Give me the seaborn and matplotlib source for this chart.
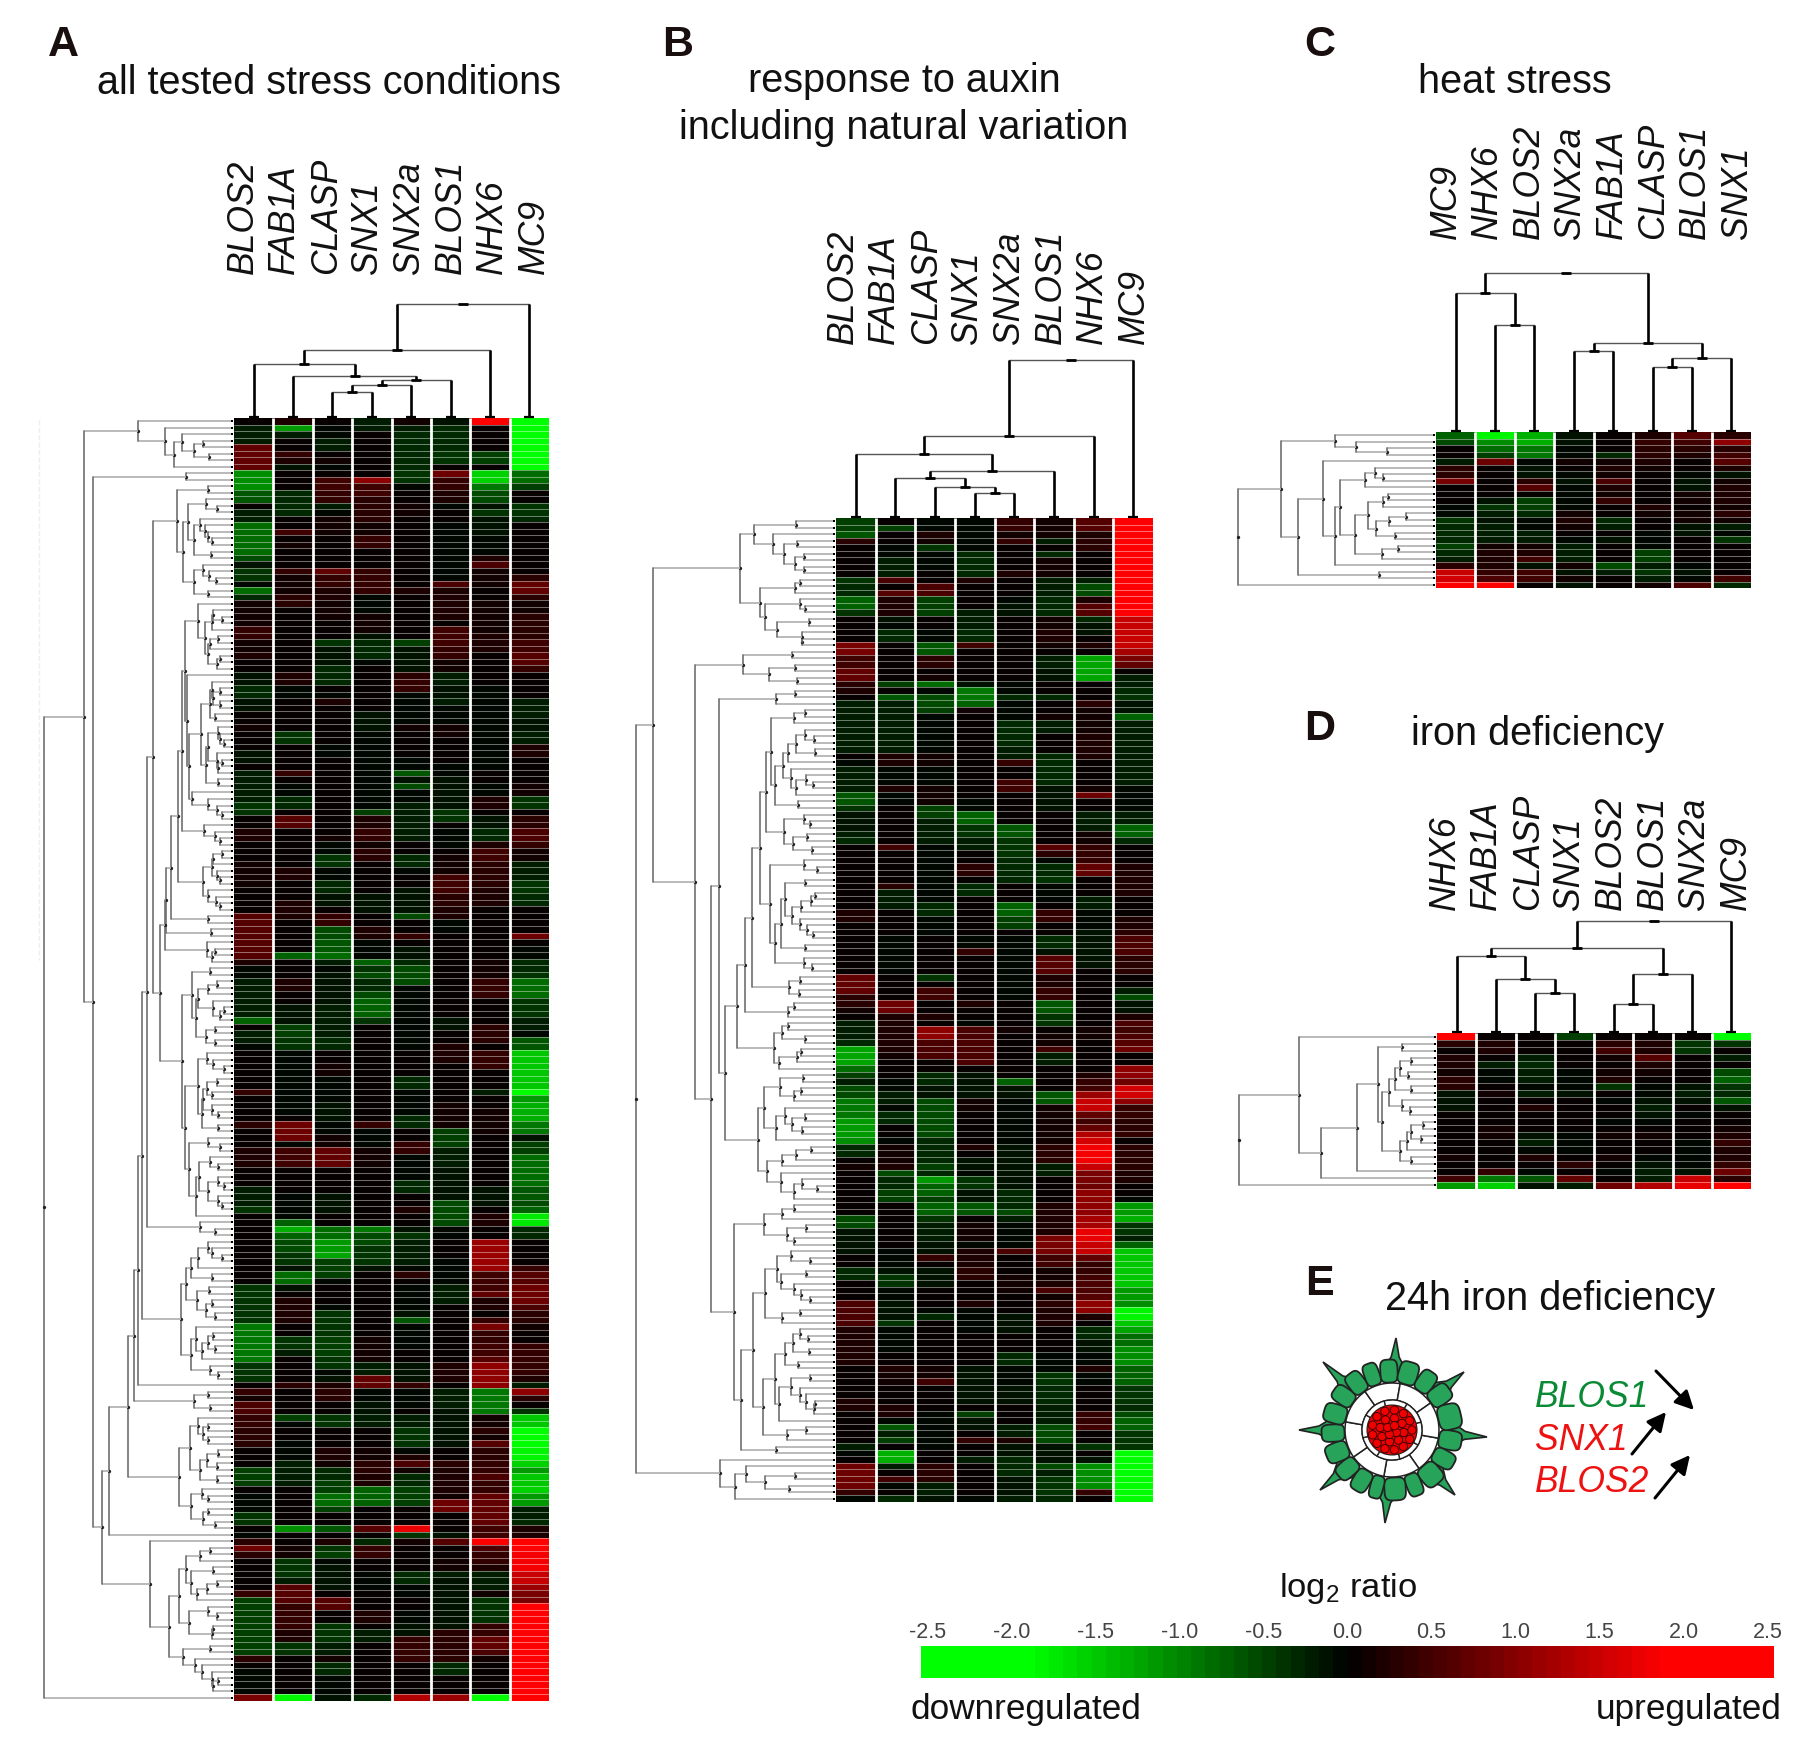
import numpy as np
import seaborn as sns
import matplotlib.pyplot as plt
from matplotlib.colors import LinearSegmentedColormap
from matplotlib.patches import Wedge, Polygon, Circle, FancyArrowPatch

W, H = 1800, 1739

# gene order of each panel
GENES_AB = ["BLOS2", "FAB1A", "CLASP", "SNX1", "SNX2a", "BLOS1", "NHX6", "MC9"]
GENES_C = ["MC9", "NHX6", "BLOS2", "SNX2a", "FAB1A", "CLASP", "BLOS1", "SNX1"]
GENES_D = ["NHX6", "FAB1A", "CLASP", "SNX1", "BLOS2", "BLOS1", "SNX2a", "MC9"]
BAR_TICKS = [-2.5, -2.0, -1.5, -1.0, -0.5, 0.0, 0.5, 1.0, 1.5, 2.0, 2.5]

# -------------------------
# panel A, 197 rows: (first row, log2 ratio) runs
# -------------------------
A_ROWS = 197
A_BLOS2 = [(0,.1),(1,-.3),(4,.9),(8,-1.2),(11,-.8),(13,0),(14,-.3),(16,-1.0),(21,-.7),(22,-.2),(23,-.5),(25,-.1),(26,-1.0),(27,-.4),(28,.2),(32,.5),(34,.2),(36,.3),(37,.1),(39,-.2),(41,-.4),(43,-.2),(45,0),(47,.2),(48,0),(51,-.2),(53,0),(54,-.3),(59,-.5),(61,0),(63,.3),(65,0),(68,.2),(72,.1),(76,.8),(83,.3),(84,-.1),(86,-.35),(92,-.9),(93,0),(94,-.35),(96,-.1),(97,.05),(103,.5),(104,.15),(108,.4),(109,0),(112,.35),(115,0),(118,-.3),(121,-.5),(122,0),(126,.1),(131,0),(133,-.5),(139,-1.1),(145,-.5),(148,0),(149,.5),(150,.2),(151,.7),(153,.5),(155,.4),(158,.1),(161,-.6),(164,0),(165,-.1),(168,-.5),(170,0),(171,-.1),(172,.4),(173,1.0),(174,.4),(175,0),(180,.5),(181,-.6),(190,.4),(191,0),(192,-.1),(196,1.1)]
A_FAB1A = [(0,.3),(1,-1.3),(2,-.3),(3,0),(4,.05),(5,.5),(6,.3),(7,-.2),(8,0),(9,.1),(11,-.4),(15,0),(17,.6),(18,0),(19,.2),(20,0),(23,.5),(24,.2),(27,.4),(29,.1),(33,0),(39,.3),(41,-.1),(43,0),(48,-.5),(50,0),(51,.1),(54,.5),(55,.1),(56,-.1),(58,-.4),(60,0),(61,.8),(63,0),(67,.1),(69,.3),(71,0),(74,.3),(77,.1),(82,-.9),(83,0),(86,.3),(88,.1),(90,-.2),(93,-.6),(95,-.5),(97,-.1),(107,.1),(108,1.0),(111,-.1),(112,.6),(115,0),(117,.1),(119,-.05),(123,-.9),(124,-1.5),(125,-.9),(126,-.7),(128,-.5),(130,-.2),(131,-1.0),(133,-.2),(134,0),(135,.3),(139,0),(141,-.5),(143,-.3),(144,0),(148,.4),(149,0),(153,-.6),(154,-.1),(155,.1),(157,-.1),(160,-.3),(164,0),(170,-1.2),(171,0),(173,.2),(175,-.5),(178,-.3),(179,.8),(182,.5),(186,.3),(188,-.5),(190,0),(196,-1.9)]
A_CLASP = [(0,0),(1,-.1),(3,-.3),(5,.1),(6,.2),(7,-.1),(8,0),(9,.6),(11,.5),(13,-.3),(14,-.1),(15,.2),(18,.1),(21,0),(23,.9),(24,.5),(26,.3),(28,.2),(31,0),(33,.05),(34,-.5),(35,-.2),(38,-.4),(41,0),(42,-.05),(43,.3),(44,0),(50,-.1),(52,.1),(54,0),(61,.1),(64,.2),(65,-.1),(67,-.5),(69,-.1),(71,-.4),(73,-.2),(75,0),(76,.5),(78,-.7),(80,-.8),(82,-1.0),(83,-.3),(84,-.1),(85,-.2),(90,-.3),(95,-.4),(97,0),(99,.2),(101,-.05),(105,-.2),(108,-.05),(110,.2),(112,.9),(115,0),(119,-.2),(122,0),(124,-1.0),(126,-1.3),(128,-1.4),(129,-.6),(132,-.1),(133,0),(136,-.1),(137,-.5),(141,-.6),(144,-.5),(146,-.1),(147,-.2),(148,.3),(149,.4),(151,.1),(153,-.5),(155,0),(158,.3),(160,.2),(161,-.4),(163,-.6),(165,-1.0),(167,-.6),(168,0),(170,-.8),(171,0),(172,.3),(173,-.5),(174,-.6),(175,-.1),(176,-.2),(180,0),(181,.8),(183,.1),(185,-.5),(188,-.3),(190,.2),(191,-.4),(193,-.1),(196,-.2)]
A_SNX1 = [(0,-.3),(2,.1),(5,.05),(7,.1),(9,1.2),(10,.6),(12,.4),(16,.2),(18,.5),(20,.05),(21,0),(23,.5),(27,-.1),(30,.2),(33,-.2),(34,-.4),(37,-.1),(38,0),(45,-.2),(48,-.1),(60,-.6),(61,.3),(63,.5),(65,.2),(66,.4),(68,.1),(71,0),(73,-.2),(76,0),(78,.3),(80,-.1),(83,-.9),(84,-.5),(85,-.7),(86,-.4),(88,-.7),(89,-.9),(92,-.5),(93,0),(98,.1),(108,.5),(109,-.1),(112,.2),(115,0),(121,.05),(124,-1.1),(125,-.7),(127,-.5),(130,-.2),(131,0),(134,.1),(141,.2),(145,-.3),(147,.9),(149,-.1),(151,-.2),(153,-.3),(155,.05),(158,.2),(160,.4),(162,.3),(164,-.9),(167,.05),(170,.8),(171,.1),(172,-.4),(173,.5),(175,.1),(177,-.1),(180,.1),(183,.3),(185,0),(186,-.3),(188,0),(196,-.4)]
A_SNX2A = [(0,.2),(1,-.3),(2,-.4),(8,-.5),(10,-.1),(11,.05),(13,.2),(15,.1),(26,.3),(27,0),(34,-.6),(35,-.2),(39,.4),(40,.5),(42,-.1),(47,.2),(48,.1),(50,.05),(52,-.1),(54,-.8),(55,-.2),(56,-.7),(57,-.1),(59,-.3),(65,0),(67,-.4),(69,-.1),(70,0),(72,-.2),(76,-.7),(77,.1),(78,.05),(79,.5),(80,0),(81,-.2),(83,-.4),(84,-.7),(87,-.1),(91,-.05),(97,.1),(99,.05),(101,-.4),(103,-.1),(107,-.4),(109,0),(110,.1),(111,.5),(113,-.05),(117,-.4),(119,.05),(121,.3),(122,0),(124,-.2),(125,-.5),(126,-.3),(130,-.1),(131,.4),(132,.1),(133,-.1),(137,-.2),(138,-.8),(139,-.1),(143,.05),(145,-.2),(148,.5),(149,-.1),(152,0),(153,-.3),(155,-.5),(158,-.1),(159,.3),(160,.7),(161,.2),(162,-.4),(164,-.6),(167,.1),(170,1.8),(171,-.5),(172,.2),(173,0),(177,-.4),(179,-.1),(181,.05),(183,-.05),(185,-.2),(187,.5),(191,.1),(196,1.5)]
A_BLOS1 = [(0,-.2),(1,-.4),(5,-.5),(7,0),(8,1.0),(9,.5),(11,.3),(13,-.1),(14,.1),(16,-.05),(25,.7),(26,.3),(31,.1),(32,.6),(35,.5),(37,.2),(39,-.3),(41,-.2),(43,-.3),(44,-.1),(47,.2),(49,.05),(53,-.1),(55,-.2),(60,-.5),(62,.05),(63,-.1),(66,.05),(67,.2),(70,.6),(73,.4),(75,.3),(77,-.1),(79,.05),(88,.1),(92,-.2),(94,.05),(96,.3),(99,.1),(101,.05),(105,.2),(109,-.6),(112,-.3),(115,-.2),(120,-.7),(124,-.1),(126,0),(129,-.1),(133,-.3),(136,0),(141,.1),(145,.3),(148,0),(149,-.3),(152,-.2),(158,.05),(160,.4),(161,.3),(165,.2),(166,1.0),(168,.05),(169,0),(171,-.2),(172,.8),(173,0),(174,.1),(175,.2),(177,-.3),(178,-.2),(185,-.2),(186,.4),(191,-.4),(193,.05),(196,1.3)]
A_NHX6 = [(0,2.4),(1,0),(5,-.6),(7,0),(8,-1.7),(10,-1.1),(11,-.7),(13,-.2),(14,-.5),(15,-.2),(18,-.1),(21,.3),(22,.7),(23,.2),(26,0),(28,.2),(33,.3),(36,.1),(41,-.1),(54,0),(56,-.05),(58,.3),(60,0),(61,-.2),(63,-.4),(65,.3),(66,.6),(68,.4),(72,.3),(75,.1),(76,0),(83,.2),(86,.5),(89,.1),(92,.05),(93,.4),(96,.1),(97,.5),(100,.1),(103,-.3),(104,.1),(106,.2),(110,0),(118,-.2),(121,0),(122,.3),(124,0),(126,1.3),(131,.6),(134,.9),(135,.3),(137,.1),(138,.5),(139,1.1),(140,.5),(142,.6),(144,.8),(145,1.2),(149,-1.1),(153,.2),(155,.4),(156,.2),(157,.8),(158,.4),(160,.5),(162,.7),(163,.5),(165,.9),(170,.6),(172,2.2),(173,.7),(174,.5),(176,.3),(177,-.3),(180,.2),(181,-.5),(185,.5),(187,.9),(189,.7),(190,.2),(191,0),(196,-2.0)]
A_MC9 = [(0,-2.2),(1,-2.5),(7,-2.1),(8,-1.0),(10,-.6),(11,0),(13,-.5),(15,-.4),(16,0),(18,.1),(20,0),(24,.4),(25,.9),(27,.4),(28,.2),(30,.4),(34,.6),(36,.8),(38,.5),(39,0),(41,.05),(43,-.3),(46,-.2),(48,-.3),(50,.3),(52,.1),(56,.2),(58,-.5),(60,0),(61,.4),(63,.7),(65,.5),(66,.2),(68,-.3),(71,-.5),(73,-.4),(75,0),(76,.1),(79,1.0),(80,.05),(81,-.1),(83,-.4),(85,-.5),(86,-1.0),(89,-.5),(92,-.3),(94,-.1),(95,-.8),(97,-1.6),(103,-2.0),(104,-1.3),(105,-1.5),(108,-1.1),(110,-.2),(111,-.6),(113,-1.0),(118,-.8),(120,-.7),(121,-.9),(122,-1.8),(124,-.4),(126,0),(129,.1),(130,.5),(131,.8),(133,1.0),(136,.7),(137,.4),(139,.2),(140,.1),(142,.5),(147,.3),(148,-.3),(149,1.2),(150,.4),(151,.1),(152,-.5),(153,-1.6),(155,-2.4),(156,-2.2),(158,-1.9),(160,-1.7),(161,-1.3),(162,-1.6),(164,-1.7),(165,-1.3),(167,-.3),(169,-.4),(170,.3),(172,2.3),(174,1.9),(177,1.6),(179,1.3),(180,1.1),(182,2.2),(190,2.5)]

# -------------------------
# panel B, 151 rows
# -------------------------
B_ROWS = 151
B_BLOS2 = [(0,-.6),(2,-.8),(3,.4),(4,0),(9,-.5),(10,-.4),(12,-.9),(14,-.5),(15,0),(19,1.1),(21,.6),(23,.9),(25,.4),(26,.3),(27,0),(28,-.3),(36,.15),(37,-.05),(38,-.3),(42,-.8),(44,-.5),(45,-.2),(48,-.3),(49,-.4),(50,0),(56,.1),(58,0),(60,.3),(62,.1),(64,0),(70,.9),(72,.9),(73,.4),(75,.2),(76,.05),(77,-.3),(80,-.4),(81,-1.4),(84,-1.0),(85,-.6),(86,-.3),(87,-.7),(89,-1.1),(92,-1.3),(95,-1.2),(96,-.4),(98,.05),(99,.2),(100,0),(107,-.7),(109,-.2),(113,0),(115,-.4),(117,0),(120,.7),(124,.3),(130,.1),(133,0),(135,.3),(137,.05),(140,0),(142,-.3),(143,-.1),(144,0),(145,1.0),(149,.5),(150,-.1)]
B_FAB1A = [(0,.05),(1,-.6),(2,0),(4,-.05),(6,-.3),(9,.7),(10,.1),(11,.8),(12,.3),(15,-.2),(16,-.05),(17,-.4),(19,0),(25,-.6),(26,0),(27,-.8),(28,-.3),(36,.3),(38,-.1),(41,.3),(42,-.1),(44,0),(47,.05),(50,.6),(51,0),(55,.1),(56,.4),(57,-.3),(60,0),(64,-.1),(70,0),(73,.1),(74,1.0),(76,.3),(82,.2),(83,.1),(86,-.1),(88,-.3),(90,-.1),(91,-.4),(93,0),(95,-.1),(96,.2),(99,.3),(100,-.7),(101,-.4),(103,-.6),(105,0),(112,-.1),(115,-.2),(116,-.5),(118,-.1),(120,-.2),(123,-.5),(124,-.1),(128,0),(130,.3),(131,.2),(133,0),(136,.3),(138,-.1),(139,-.8),(140,-.3),(141,-.6),(142,.05),(143,-1.5),(145,-.3),(146,.1),(147,.6),(148,-.1),(149,.1),(150,-.4)]
B_CLASP = [(0,-.1),(2,.3),(3,.2),(4,-.5),(5,-.1),(8,.05),(9,.1),(10,.7),(12,-.6),(15,.05),(17,-.1),(19,-.8),(21,.4),(23,.05),(24,.2),(25,-1.0),(26,-.1),(27,-.7),(29,-.6),(30,-.1),(36,.2),(38,-.05),(41,.2),(44,-.6),(46,-.3),(50,-.1),(59,-.4),(61,-.1),(64,.1),(70,-.5),(71,0),(72,.6),(74,0),(76,.3),(77,0),(78,1.2),(80,.7),(83,.1),(85,-.4),(87,-.2),(89,-.7),(94,-.7),(95,-.4),(99,-.6),(100,-.4),(101,-1.3),(102,-.9),(104,-.6),(105,-.9),(107,-.5),(108,-.3),(111,-.2),(113,.5),(114,0),(115,-.2),(118,.1),(121,-.1),(122,-.4),(123,.05),(124,.1),(126,0),(130,.2),(132,.6),(133,0),(137,-.1),(143,0),(145,.4),(148,-.3),(150,-.2)]
B_SNX1 = [(0,-.1),(5,-.4),(9,.3),(10,.1),(13,.05),(14,-.3),(17,-.4),(19,.6),(20,.1),(21,0),(25,-.2),(26,-1.1),(28,-.9),(29,.2),(30,.05),(41,.1),(43,-.1),(45,-.9),(47,-.5),(49,-.3),(51,0),(53,.4),(55,.05),(56,-.4),(58,0),(64,-.1),(66,.5),(67,0),(70,.05),(74,.3),(75,.05),(77,-.1),(78,.7),(84,.05),(85,-.2),(89,.2),(91,0),(96,.3),(97,.1),(98,-.2),(100,-.1),(101,-.5),(103,-.2),(105,-.8),(107,0),(108,.2),(111,-.1),(112,.3),(115,.4),(117,.1),(120,.3),(121,-.1),(125,0),(130,-.2),(136,.1),(137,-.6),(138,-.2),(140,.05),(141,.5),(142,0),(144,-.3),(145,.1),(147,0),(150,-.1)]
B_SNX2A = [(0,.5),(2,.2),(3,.5),(4,.05),(8,.3),(9,0),(12,-.1),(13,-.2),(15,0),(19,.1),(25,-.1),(27,-.4),(28,-.05),(31,-.4),(35,-.3),(37,.5),(38,.1),(40,.6),(42,0),(47,-.8),(49,-.5),(52,-.4),(56,0),(59,-.9),(61,-.6),(63,.05),(64,-.1),(74,0),(78,.2),(79,0),(86,-.9),(87,-.2),(89,-.1),(96,-.2),(103,-.4),(106,-.7),(107,-.3),(108,-.1),(112,.7),(113,0),(116,.2),(119,0),(122,-.2),(125,0),(128,-.4),(130,-.1),(133,-.2),(136,0),(139,-.3),(141,.3),(142,-.2),(144,-.4),(147,-.2),(150,-.3)]
B_BLOS1 = [(0,.2),(3,-.3),(4,.05),(5,-.4),(6,.2),(9,-.3),(12,-.4),(15,.2),(17,.3),(19,.2),(20,.1),(21,-.3),(23,-.2),(25,0),(26,.05),(27,-.4),(28,.1),(30,.2),(31,-.3),(33,.1),(36,-.4),(41,-.2),(45,0),(49,.1),(50,.8),(51,.4),(52,-.1),(53,-.4),(55,-.5),(56,-.05),(59,.1),(60,.5),(62,.1),(64,-.4),(66,-.2),(67,.8),(70,.3),(72,.5),(74,-.8),(76,-.5),(78,.1),(79,.2),(81,.6),(82,-.3),(84,.05),(86,.1),(88,-.8),(90,.2),(96,.4),(99,-.3),(101,.1),(105,.3),(110,1.1),(113,.6),(115,.2),(117,.3),(118,.7),(119,.2),(120,.4),(121,.3),(124,.1),(126,.05),(128,-.1),(130,-.05),(131,-.5),(133,-.4),(136,-.3),(139,-.7),(142,-.2),(145,-.7),(146,-.3),(147,-.5),(150,-.4)]
B_NHX6 = [(0,.8),(2,.3),(3,.4),(5,0),(9,-.3),(10,-.7),(12,.3),(13,.8),(15,-.4),(16,-.2),(18,.1),(19,.3),(20,0),(21,-1.4),(25,.05),(27,.1),(28,.4),(29,.2),(33,.3),(37,.1),(41,.2),(42,1.0),(43,.1),(44,.05),(45,-.3),(48,.2),(50,.5),(53,.9),(55,.1),(57,.05),(58,-.3),(60,-.1),(63,-.2),(69,.1),(74,.05),(78,.2),(80,.05),(84,.1),(85,.3),(86,.5),(87,.6),(88,1.3),(89,1.6),(91,.9),(92,.6),(93,.9),(94,1.5),(95,1.7),(96,1.9),(99,1.6),(100,1.1),(102,1.0),(103,1.2),(107,1.4),(109,1.8),(111,1.6),(113,.9),(114,.5),(116,.6),(117,.7),(119,.8),(120,1.2),(122,.3),(123,.05),(124,-.4),(126,-.2),(128,-.1),(130,.3),(131,-.1),(133,0),(137,.5),(139,.6),(140,0),(142,-.5),(143,0),(144,-.2),(145,-1.2),(149,.5),(150,.05)]
B_MC9 = [(0,2.5),(13,2.2),(15,1.6),(20,1.4),(21,1.1),(22,.9),(23,.1),(24,-.3),(26,-.4),(27,-.5),(28,-.2),(30,-.9),(31,-.3),(41,-.1),(45,-.3),(47,-.9),(49,-.4),(50,.1),(53,.3),(58,.05),(61,.3),(63,.4),(64,.7),(67,.4),(70,.1),(72,-.3),(73,-.7),(74,-.2),(76,.3),(77,.7),(78,.6),(79,.7),(80,.8),(81,1.0),(82,.1),(84,1.2),(86,1.0),(87,1.7),(89,1.2),(90,.5),(92,.4),(94,.5),(95,.05),(96,.4),(100,.3),(102,.1),(104,-.1),(105,-1.3),(107,-1.5),(108,-.5),(110,-.3),(111,-.9),(112,-1.6),(118,-1.3),(120,-1.2),(121,-1.9),(123,-1.6),(124,-1.4),(125,-1.0),(127,-1.2),(130,-.9),(133,-.5),(136,-.4),(137,-.7),(138,-.9),(140,-.5),(143,-2.0),(145,-2.5),(148,-2.3)]

# -------------------------
# panel C, one value per row
# -------------------------
C_MC9 = [-.9,-.7,0,.15,-.3,.4,.4,1.1,.1,0,0,-.1,-.1,-.5,-.4,-.4,-.4,-.6,-.4,-.3,.4,1.6,1.7,2.3]
C_NHX6 = [-1.9,-1.2,-1.0,-.6,1.0,.1,.1,0,0,0,-.2,-.5,-.3,-.2,-.3,-.3,-.3,.2,.3,.3,.3,.5,.7,2.2]
C_BLOS2 = [-1.5,-1.5,-1.1,-1.1,-.05,-.2,-.2,.4,.8,.1,-.6,-.6,-.4,-.1,-.1,-.3,-.3,.2,.3,.6,-.2,.6,.6,0]
C_SNX2A = [-.2,-.2,-.1,-.1,.2,.1,-.1,-.2,-.1,-.1,-.1,-.1,.2,.3,.2,0,-.1,-.3,-.3,-.3,.2,-.2,.2,-.2]
C_FAB1A = [.1,.1,0,-.4,.2,.3,.2,.7,.3,.2,.5,.1,.1,-.4,-.3,.1,-.2,0,.1,.1,-.7,-.3,.1,.1]
C_CLASP = [.3,.5,.4,.4,.3,.2,.1,.1,.1,.1,.1,.3,.2,.1,0,-.1,-.1,-.1,-.6,-.6,-.3,-.5,-.3,.2]
C_BLOS1 = [.8,.6,.4,.3,.1,0,-.1,-.2,-.2,.2,.2,0,.2,.2,-.2,-.2,.1,.1,0,0,-.1,-.2,-.1,.7]
C_SNX1 = [.4,1.2,.4,.6,.8,.3,-.2,.2,.3,.3,.3,.2,.4,.2,-.3,-.1,-.5,.1,.1,.1,0,0,.6,-.4]

# -------------------------
# panel D
# -------------------------
D_NHX6 = [2.3,.4,0,.3,.3,.2,.4,.4,-.2,-.2,-.2,0,0,.05,.05,0,.05,.2,0,0,.6,-1.3]
D_FAB1A = [.1,.3,.3,0,-.3,-.1,-.1,.1,.2,0,0,0,.1,.2,.2,.1,.1,.1,.1,.5,-1.1,-1.7]
D_CLASP = [0,.05,.05,-.3,-.4,-.3,-.3,-.1,-.3,0,.3,0,0,0,-.2,-.3,-.1,.3,.1,-.1,-.8,-.2]
D_SNX1 = [-.6,0,0,0,0,-.1,-.1,-.1,-.2,0,0,0,0,0,-.1,-.1,-.1,.1,.4,.1,.9,-.3]
D_BLOS2 = [0,.4,.6,.2,.1,.2,.3,-.5,.1,-.1,0,0,-.05,.1,.2,0,.1,.2,.1,-.1,0,1.0]
D_BLOS1 = [0,.3,.3,.8,.3,.2,.1,-.1,-.1,-.2,-.3,-.2,-.1,.1,.2,.1,0,-.1,-.2,-.3,-.3,1.5]
D_SNX2A = [.1,-.5,-.5,0,.05,.05,0,-.2,-.3,-.2,0,-.1,0,0,0,-.1,-.1,-.1,-.1,-.2,1.6,1.8]
D_MC9 = [-2.3,-.5,0,-.3,0,-.7,-.9,-.5,-.4,-.8,-.2,0,.05,.2,.3,.5,.3,.3,.5,1.0,.4,2.4]

# merge height between neighbouring leaves, this fixes each dendrogram
A_ROW_GAPS = [277,197,147,85,112,67,172,439,137,412,
              70,162,77,45,129,94,80,70,58,113,
              62,145,87,67,47,112,70,235,100,55,
              30,60,80,40,65,70,35,45,139,132,
              60,35,55,35,65,50,92,40,35,25,
              70,45,30,40,77,40,127,117,70,45,
              30,149,82,50,35,160,30,55,60,45,
              35,87,70,47,37,182,70,194,62,197,
              75,50,60,212,64,119,45,70,100,55,
              25,35,107,50,77,50,149,75,55,25,
              100,45,75,60,85,60,40,90,40,139,
              70,35,127,65,40,97,40,25,70,40,
              30,107,252,95,50,265,70,60,30,100,
              122,60,135,68,105,60,78,50,150,107,
              55,70,50,90,120,65,42,277,290,70,
              112,65,307,100,70,85,70,124,42,75,
              45,95,45,157,90,70,122,70,85,50,
              365,384,244,65,95,137,55,120,45,75,
              105,157,70,45,127,55,60,187,65,145,
              110,90,60,40,55,557]
B_ROW_GAPS = [113,236,181,109,148,88,116,88,277,100,
              116,220,100,85,205,75,168,94,94,535,
              125,270,116,192,111,412,114,172,340,85,
              117,187,85,60,113,57,137,152,127,82,
              62,112,175,107,202,90,70,147,80,120,
              65,219,90,50,189,87,145,57,67,97,
              124,100,80,62,157,85,174,90,64,244,
              100,132,105,262,117,137,287,137,154,87,
              177,97,110,162,322,92,160,98,117,207,
              144,87,124,94,172,224,69,112,154,197,
              157,94,50,117,365,119,155,207,84,140,
              119,297,127,70,170,83,157,119,98,70,
              205,102,155,240,100,77,122,75,145,107,
              174,72,127,102,82,57,60,162,209,84,
              140,275,172,587,337,260,114,205,132,292]
C_ROW_GAPS = [266,211,126,413,301,158,138,186,253,123,
              138,178,75,121,156,106,213,98,140,266,
              366,148,528]
D_ROW_GAPS = [368,88,153,65,95,73,107,65,123,88,
              68,143,32,65,37,75,95,65,210,308,528]
A_COL_GAPS = [54,42,26,33,38,68,114]
B_COL_GAPS = [64,40,31,25,47,82,158]
C_COL_GAPS = [139,107,159,81,89,65,74]
D_COL_GAPS = [77,54,40,85,29,59,112]

# panel E, cell borders (deg) of the outer layer as seen in the drawing
EPI_EDGES = [0, 20, 38, 60, 76, 98, 112, 130, 148, 168, 186, 206, 224, 242, 258, 276, 296, 314, 334, 360]
HAIR_TIPS = [(4, -92), (72, -58), (95, 7), (63, 65), (-7, 93), (-72, 60), (-93, 0), (-69, -68)]

sns.set_theme(style="white")
plt.rcParams["font.family"] = ["Liberation Sans", "DejaVu Sans"]
plt.rcParams["mathtext.fontset"] = "custom"
plt.rcParams["mathtext.rm"] = "Liberation Sans"

# green - black - red, flat at both ends like the scale bar
cmap = LinearSegmentedColormap.from_list(
    "gbr",
    [(0.0, "#00ff00"), (0.12, "#00ff00"), (0.5, "#000000"), (0.88, "#ff0000"), (1.0, "#ff0000")],
    N=60,
)

fig = plt.figure(figsize=(W / 100, H / 100), dpi=100)


def px_axes(x0, y0, x1, y1):
    return fig.add_axes([x0 / W, 1 - y1 / H, (x1 - x0) / W, (y1 - y0) / H])


# full page axes in pixel units, for all the labels and panel E
page = px_axes(0, 0, W, H)
page.set_xlim(0, W)
page.set_ylim(H, 0)
page.axis("off")


def expand(runs, n):
    vals = np.zeros(n)
    for start, v in sorted(runs, key=lambda r: r[0]):
        vals[start:] = v
    return vals


def walk(gaps, lo, hi, out):
    # split at the highest gap, returns (leaf position, height) of the node
    if lo == hi:
        return lo + 0.5, 0
    i = lo + int(np.argmax(gaps[lo:hi]))
    a = walk(gaps, lo, i, out)
    b = walk(gaps, i + 1, hi, out)
    h = gaps[i]
    out.append((a, b, h))
    return (a[0] + b[0]) / 2, h


def draw_heatmap(cols, box):
    ax = px_axes(*box)
    mat = np.array(cols).T
    # my first readings came out too bright, this calibrates them to the scale bar
    shown = np.sign(mat) * np.abs(mat) ** 1.25 * 0.8
    sns.heatmap(shown, ax=ax, cmap=cmap, vmin=-2.5, vmax=2.5, cbar=False,
                xticklabels=False, yticklabels=False)
    n, m = mat.shape
    ax.hlines(np.arange(1, n), 0, m, color="white", lw=0.75, alpha=0.42)
    ax.vlines(np.arange(1, m), 0, n, color="white", lw=2.0)
    return ax


def draw_row_tree(gaps, box, dots_x, scale):
    top, bottom = box[1], box[3]
    span = max(gaps) / scale
    ax = px_axes(dots_x - span - 2, top, dots_x + 2, bottom)
    n = len(gaps) + 1
    ax.set_xlim(max(gaps) + 2 * scale, -2 * scale)
    ax.set_ylim(n, 0)
    ax.axis("off")
    nodes = []
    walk(gaps, 0, n - 1, nodes)
    for a, b, h in nodes:
        ax.plot([h, a[1]], [a[0], a[0]], color="#b4b4b4", lw=1.3, solid_capstyle="butt")
        ax.plot([h, b[1]], [b[0], b[0]], color="#b4b4b4", lw=1.3, solid_capstyle="butt")
        ax.plot([h, h], [a[0], b[0]], color="#707070", lw=1.2)
        ax.plot(h, (a[0] + b[0]) / 2, "o", color="#222222", ms=2.4, mew=0)
    ax.plot(np.zeros(n) + 1, np.arange(n) + 0.5, "s", color="black", ms=1.8, mew=0)


def draw_col_tree(gaps, box):
    x0, top, x1, _ = box
    rise = max(gaps)
    ax = px_axes(x0, top - rise - 4, x1, top)
    m = len(gaps) + 1
    ax.set_xlim(0, m)
    ax.set_ylim(0, rise + 4)
    ax.axis("off")
    nodes = []
    walk(gaps, 0, m - 1, nodes)
    for a, b, h in nodes:
        ax.plot([a[0], b[0]], [h, h], color="#555555", lw=1.0)
        ax.plot([a[0], a[0]], [a[1], h], color="black", lw=1.9, solid_capstyle="butt")
        ax.plot([b[0], b[0]], [b[1], h], color="black", lw=1.9, solid_capstyle="butt")
        ax.plot((a[0] + b[0]) / 2, h, "_", color="black", ms=7, mew=2)
    ax.plot(np.arange(m) + 0.5, np.zeros(m) + 1, "_", color="black", ms=7, mew=1.6)


def gene_labels(genes, x_start, y_bottom, pitch=41.6):
    for i, g in enumerate(genes):
        page.text(x_start + pitch * i, y_bottom, g, rotation=90, ha="center", va="bottom",
                  fontsize=25.6, style="italic", color="#111111")


# -------------------------
# the four clustered panels
# -------------------------
panel_a = [expand(c, A_ROWS) for c in (A_BLOS2, A_FAB1A, A_CLASP, A_SNX1, A_SNX2A, A_BLOS1, A_NHX6, A_MC9)]
panel_b = [expand(c, B_ROWS) for c in (B_BLOS2, B_FAB1A, B_CLASP, B_SNX1, B_SNX2A, B_BLOS1, B_NHX6, B_MC9)]
panel_c = [C_MC9, C_NHX6, C_BLOS2, C_SNX2A, C_FAB1A, C_CLASP, C_BLOS1, C_SNX1]
panel_d = [D_NHX6, D_FAB1A, D_CLASP, D_SNX1, D_BLOS2, D_BLOS1, D_SNX2A, D_MC9]

box_a = (234, 418, 549, 1701)
box_b = (836, 518, 1153, 1502)
box_c = (1436, 432, 1751, 588)
box_d = (1437, 1033, 1751, 1189)

draw_heatmap(panel_a, box_a)
draw_row_tree(A_ROW_GAPS, box_a, 232, 2.96)
draw_col_tree(A_COL_GAPS, box_a)
gene_labels(GENES_AB, 243, 274)

draw_heatmap(panel_b, box_b)
draw_row_tree(B_ROW_GAPS, box_b, 834, 2.96)
draw_col_tree(B_COL_GAPS, box_b)
gene_labels(GENES_AB, 843, 344)

draw_heatmap(panel_c, box_c)
draw_row_tree(C_ROW_GAPS, box_c, 1434, 2.70)
draw_col_tree(C_COL_GAPS, box_c)
gene_labels(GENES_C, 1446, 239)

draw_heatmap(panel_d, box_d)
draw_row_tree(D_ROW_GAPS, box_d, 1435, 2.70)
draw_col_tree(D_COL_GAPS, box_d)
gene_labels(GENES_D, 1445, 910)

# faint dashed guide left of panel A
page.plot([39, 39], [420, 960], color="#ededed", lw=1, ls="--")

# -------------------------
# colour scale
# -------------------------
bar = px_axes(921, 1646, 1774, 1678)
cells = np.linspace(-2.5, 2.5, 60)[None, :]
sns.heatmap(cells, ax=bar, cmap=cmap, vmin=-2.5, vmax=2.5, cbar=False, yticklabels=False)
bar.set_xticks([30 + v * 60 * (84 / 0.5) / 853 for v in BAR_TICKS])
bar.set_xticklabels([f"{v:.1f}" for v in BAR_TICKS], fontsize=15.5, color="#444444", rotation=0)
bar.xaxis.tick_top()
bar.tick_params(axis="x", length=0, pad=2, bottom=False, top=False)

# -------------------------
# titles
# -------------------------
for letter, x, y in [("A", 48, 45), ("B", 662, 45), ("C", 1304, 45), ("D", 1304, 729), ("E", 1305, 1284)]:
    page.text(x, y, letter, fontsize=31, fontweight="bold", ha="left", va="center", color="#1a0f0f")

for txt, x, y in [("all tested stress conditions", 329, 83),
                  ("response to auxin", 904, 81),
                  ("including natural variation", 904, 128),
                  ("heat stress", 1515, 82),
                  ("iron deficiency", 1538, 734),
                  ("24h iron deficiency", 1550, 1299)]:
    page.text(x, y, txt, fontsize=28.5, ha="center", va="center", color="#111111")

page.text(1348, 1589, r"log$_{\mathrm{2}}$ ratio", fontsize=24.8, ha="center", va="center", color="#111111")
page.text(911, 1709, "downregulated", fontsize=25.3, ha="left", va="center", color="#111111")
page.text(1782, 1709, "upregulated", fontsize=25.3, ha="right", va="center", color="#111111")

# -------------------------
# panel E, root section and arrows
# -------------------------
cx, cy = 1392, 1430
green = "#27a35a"
edge = "#222222"
for tx, ty in HAIR_TIPS:
    ang = np.arctan2(ty, tx)
    ux, uy = np.cos(ang), np.sin(ang)
    vx, vy = -uy, ux
    outline = [(cx + 58 * ux + 13 * vx, cy + 58 * uy + 13 * vy),
               (cx + 73 * ux + 4 * vx, cy + 73 * uy + 4 * vy),
               (cx + tx, cy + ty),
               (cx + 73 * ux - 4 * vx, cy + 73 * uy - 4 * vy),
               (cx + 58 * ux - 13 * vx, cy + 58 * uy - 13 * vy)]
    page.add_patch(Polygon(outline, fc=green, ec=edge, lw=1.2, zorder=3))
# epidermis cells, squarish with round corners
t = np.linspace(0, 2 * np.pi, 40)
for a0, a1 in zip(EPI_EDGES[:-1], EPI_EDGES[1:]):
    mid = np.deg2rad((a0 + a1) / 2)
    half_w = np.deg2rad(a1 - a0) / 2 * 59 - 0.6
    rad = 59 + 11.5 * np.sign(np.cos(t)) * np.abs(np.cos(t)) ** 0.55
    tan = half_w * np.sign(np.sin(t)) * np.abs(np.sin(t)) ** 0.55
    xs = cx + rad * np.cos(mid) - tan * np.sin(mid)
    ys = cy + rad * np.sin(mid) + tan * np.cos(mid)
    page.add_patch(Polygon(np.column_stack([xs, ys]), fc=green, ec=edge, lw=1.3, zorder=4))
# cortex and endodermis
for a in np.arange(10, 370, 45):
    page.add_patch(Wedge((cx, cy), 47, a, a + 45, width=17, fc="white", ec=edge, lw=1.1, zorder=4))
for a in np.arange(30, 390, 45):
    page.add_patch(Wedge((cx, cy), 30, a, a + 45, width=6, fc="white", ec=edge, lw=1.0, zorder=4))
# stele
page.add_patch(Circle((cx, cy), 25, fc="#f00000", ec=edge, lw=0.8, zorder=5))
for r, k, off in [(20, 13, 0), (12, 8, 12), (5, 4, 30)]:
    for a in np.deg2rad(np.arange(k) * 360 / k + off):
        page.add_patch(Circle((cx + r * np.cos(a), cy + r * np.sin(a)), 4.2, fc="#f00000",
                              ec="#400000", lw=0.7, zorder=6))

for txt, col, y in [("BLOS1", "#0a8a35", 1407), ("SNX1", "#ee1111", 1450), ("BLOS2", "#ee1111", 1492)]:
    page.text(1535, y, txt, color=col, fontsize=25.6, style="italic", ha="left", va="baseline")

for p0, p1 in [((1656, 1371), (1694, 1410)), ((1632, 1454), (1666, 1412)), ((1655, 1498), (1690, 1455))]:
    page.add_patch(FancyArrowPatch(p0, p1, arrowstyle="-|>", mutation_scale=28, lw=2.2,
                                   color="black", shrinkA=0, shrinkB=0))

fig.savefig("out.png", dpi=100, facecolor="white")
